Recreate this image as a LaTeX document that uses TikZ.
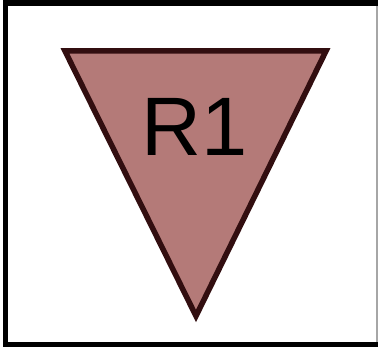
\documentclass[tikz,border=0pt]{standalone}
\usepackage{fontspec}
\setmainfont{Liberation Sans}
\definecolor{rosefill}{RGB}{180,122,120}
\definecolor{rosedraw}{RGB}{50,14,16}
\tikzset{tri/.style={fill=rosefill,draw=rosedraw,line width=5.5pt,line join=miter}}
\begin{document}
\begin{tikzpicture}[x=1pt,y=-1pt]
\useasboundingbox (0,0) rectangle (378,347);
\fill[black] (3,0) rectangle (378,347);
\fill[white] (8,6) rectangle (376,342);
\fill[gray!70] (376,6) rectangle (377.5,342);
\draw[tri] (65,51) -- (326,51) -- (196,316) -- cycle;
\node[font=\fontsize{83}{83}\selectfont, text=black, inner sep=0pt] (r1) at (195,127) {R1};
\end{tikzpicture}
\end{document}
